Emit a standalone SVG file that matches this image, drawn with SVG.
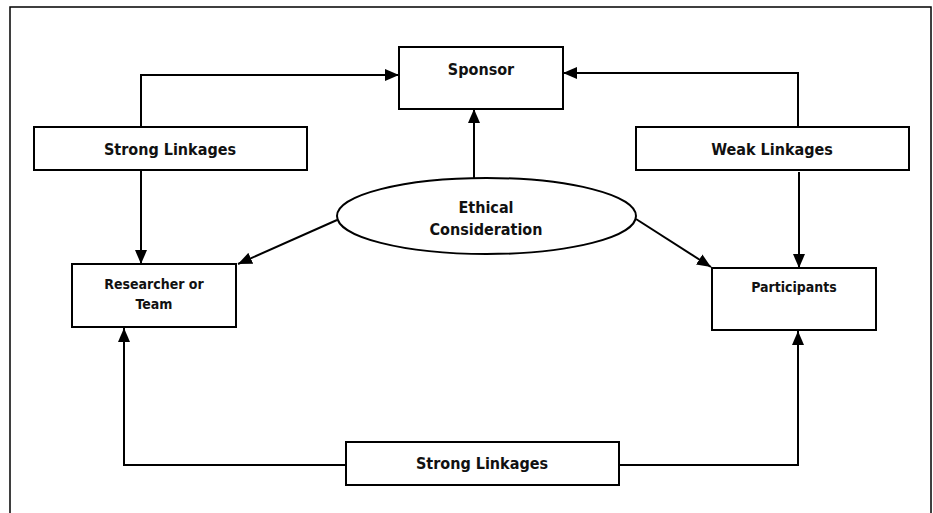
<svg xmlns="http://www.w3.org/2000/svg" width="933" height="513" viewBox="0 0 933 513">
<style>
.box{fill:#fff;stroke:#000;stroke-width:2}
.ln{fill:none;stroke:#000;stroke-width:2}
.t{font-family:"DejaVu Sans Condensed","DejaVu Sans",sans-serif;font-stretch:condensed;font-weight:bold;fill:#111;text-anchor:middle}
.big{font-size:16px}
.small{font-size:14px}
</style>
<defs>
<marker id="ah" markerUnits="userSpaceOnUse" markerWidth="14" markerHeight="12" refX="14" refY="6" orient="auto">
<path d="M0,0 L14,6 L0,12 Z" fill="#000"/>
</marker>
</defs>
<rect x="10" y="7" width="921" height="510" fill="none" stroke="#000" stroke-width="1.5"/>
<g id="connectors">
<polyline class="ln" points="141,127 141,75 399,75" marker-end="url(#ah)"/>
<line class="ln" x1="141" y1="170" x2="141" y2="264" marker-end="url(#ah)"/>
<polyline class="ln" points="798,127 798,73 563,73" marker-end="url(#ah)"/>
<line class="ln" x1="799" y1="172" x2="799" y2="268" marker-end="url(#ah)"/>
<line class="ln" x1="474" y1="178" x2="474" y2="109" marker-end="url(#ah)"/>
<line class="ln" x1="337" y1="220" x2="238" y2="264" marker-end="url(#ah)"/>
<line class="ln" x1="636" y1="219" x2="711" y2="267" marker-end="url(#ah)"/>
<polyline class="ln" points="346,465 124,465 124,328" marker-end="url(#ah)"/>
<polyline class="ln" points="619,465 798,465 798,331" marker-end="url(#ah)"/>
</g>
<g id="sponsor">
<rect class="box" x="399" y="47" width="164" height="62"/>
<text class="t big" x="481" y="75">Sponsor</text>
</g>
<g id="strong-top">
<rect class="box" x="34" y="127" width="273" height="43"/>
<text class="t big" x="170" y="155">Strong Linkages</text>
</g>
<g id="weak">
<rect class="box" x="636" y="127" width="273" height="43"/>
<text class="t big" x="772" y="155">Weak Linkages</text>
</g>
<g id="ethical">
<ellipse cx="486.5" cy="216" rx="149.5" ry="38" fill="#fff" stroke="#000" stroke-width="2"/>
<text class="t big" x="486" y="213">Ethical</text>
<text class="t big" x="486" y="235">Consideration</text>
</g>
<g id="researcher">
<rect class="box" x="72" y="264" width="164" height="63"/>
<text class="t small" x="154" y="289">Researcher or</text>
<text class="t small" x="154" y="309">Team</text>
</g>
<g id="participants">
<rect class="box" x="712" y="268" width="164" height="62"/>
<text class="t small" x="794" y="292">Participants</text>
</g>
<g id="strong-bottom">
<rect class="box" x="346" y="442" width="273" height="43"/>
<text class="t big" x="482" y="469">Strong Linkages</text>
</g>
</svg>
